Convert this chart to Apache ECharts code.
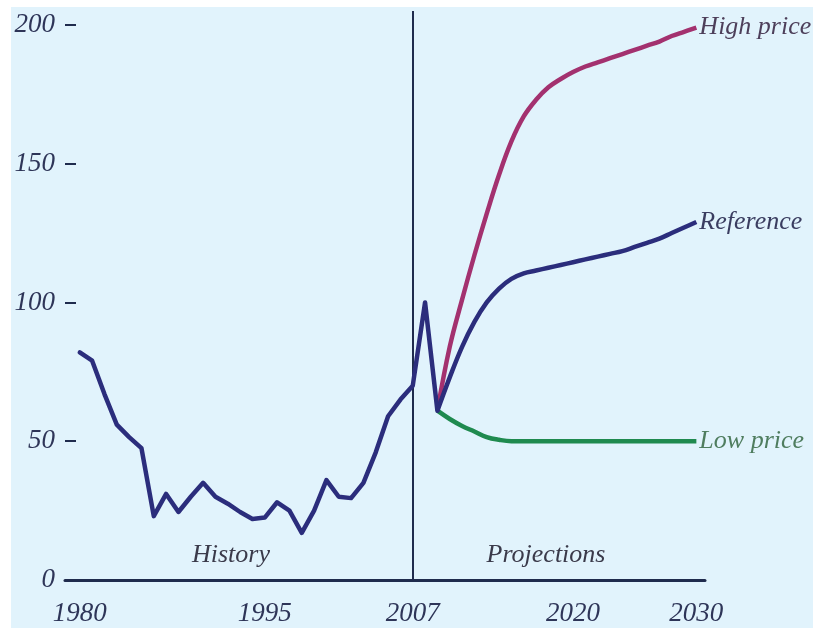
<!DOCTYPE html>
<html><head><meta charset="utf-8">
<script src="https://cdn.jsdelivr.net/npm/echarts@6/dist/echarts.min.js"></script>
<style>html,body{margin:0;padding:0;background:#fff}#c{width:819px;height:630px}</style>
</head><body><div id="c"></div>
<script>
const historyYears = [1980,1981,1982,1983,1984,1985,1986,1987,1988,1989,1990,1991,1992,1993,1994,1995,1996,1997,1998,1999,2000,2001,2002,2003,2004,2005,2006,2007,2008,2009];
const historyValues = [82,79,67,56,51.5,47.5,23,31,24.5,30,35,30,27.5,24.5,22,22.5,28,25,17,25,36,30,29.5,35,46,59,65,70,100,61];
const projYears = [2009,2010,2011,2012,2013,2014,2015,2016,2017,2018,2019,2020,2021,2022,2023,2024,2025,2026,2027,2028,2029,2030];
const highValues = [61,84,101,117,132,146,158,167,173,177.5,180.5,183,185,186.5,188,189.5,191,192.5,194,196,197.5,199];
const referenceValues = [61,73,84,93,100,105,108.5,110.5,111.5,112.5,113.5,114.5,115.5,116.5,117.5,118.5,120,121.5,123,125,127,129];
const lowValues = [61,58,55.5,53.5,51.5,50.5,50,50,50,50,50,50,50,50,50,50,50,50,50,50,50,50];
const xTicks = [1980,1995,2007,2020,2030];
const yTicks = [0,50,100,150,200];
const seriesNames = ['High price','Reference','Low price'];

const pair = (xs, ys) => xs.map((x, i) => [x, ys[i]]);
const font = '"Liberation Serif", "Times New Roman", serif';
const chart = echarts.init(document.getElementById('c'));
const labelStyle = (color) => ({show:true, formatter: p => p.seriesName, fontFamily: font, fontStyle:'italic', fontSize:26, color: color, distance: 3});
chart.setOption({
  animation:false,
  backgroundColor:'#ffffff',
  graphic:[
    {type:'rect', shape:{x:11,y:7,width:802,height:621}, style:{fill:'#e1f3fc'}, z:-10},
    {type:'text', x:231, y:555, style:{text:'History', fontFamily:font, fontStyle:'italic', fontSize:26, fill:'#3a3a4a', align:'center', verticalAlign:'middle'}},
    {type:'text', x:546, y:555, style:{text:'Projections', fontFamily:font, fontStyle:'italic', fontSize:26, fill:'#3a3a4a', align:'center', verticalAlign:'middle'}}
  ],
  grid:{left:65, right:114, top:11, bottom:50, containLabel:false},
  xAxis:{type:'value', min:1978.8, max:2030.7,
    axisLine:{show:true, lineStyle:{color:'#1f2b4d', width:3}},
    axisTick:{show:false},
    splitLine:{show:false},
    axisLabel:{customValues:xTicks, margin:20, fontFamily:font, fontStyle:'italic', fontSize:27, color:'#2e3558', formatter: v => String(v)}
  },
  yAxis:{type:'value', min:0, max:205,
    axisLine:{show:false},
    axisTick:{show:true, inside:true, length:11, customValues:yTicks, lineStyle:{color:'#1f2b4d', width:2}},
    splitLine:{show:false},
    axisLabel:{customValues:yTicks, margin:10, fontFamily:font, fontStyle:'italic', fontSize:27, color:'#2e3558'}
  },
  series:[
    {name:seriesNames[2], type:'line', data:pair(projYears, lowValues), smooth:0.4, symbol:'none',
     lineStyle:{color:'#1f8a4f', width:4.5}, endLabel:labelStyle('#4f7d5f'), z:3},
    {name:seriesNames[0], type:'line', data:pair(projYears, highValues), smooth:0.4, symbol:'none',
     lineStyle:{color:'#a3316f', width:4.5}, endLabel:labelStyle('#4d3f5a'), z:3},
    {name:seriesNames[1], type:'line', data:pair(projYears, referenceValues), smooth:0.4, symbol:'none',
     lineStyle:{color:'#2b2d7c', width:4.5}, endLabel:labelStyle('#3a3d60'), z:4},
    {name:'History', type:'line', data:pair(historyYears, historyValues), smooth:false, symbol:'none',
     lineStyle:{color:'#2b2d7c', width:4.5, join:'round', cap:'round'}, z:5,
     markLine:{symbol:'none', silent:true, label:{show:false}, lineStyle:{color:'#1f2b4d', width:2, type:'solid'}, data:[{xAxis:2007}]}}
  ]
});
</script></body></html>
